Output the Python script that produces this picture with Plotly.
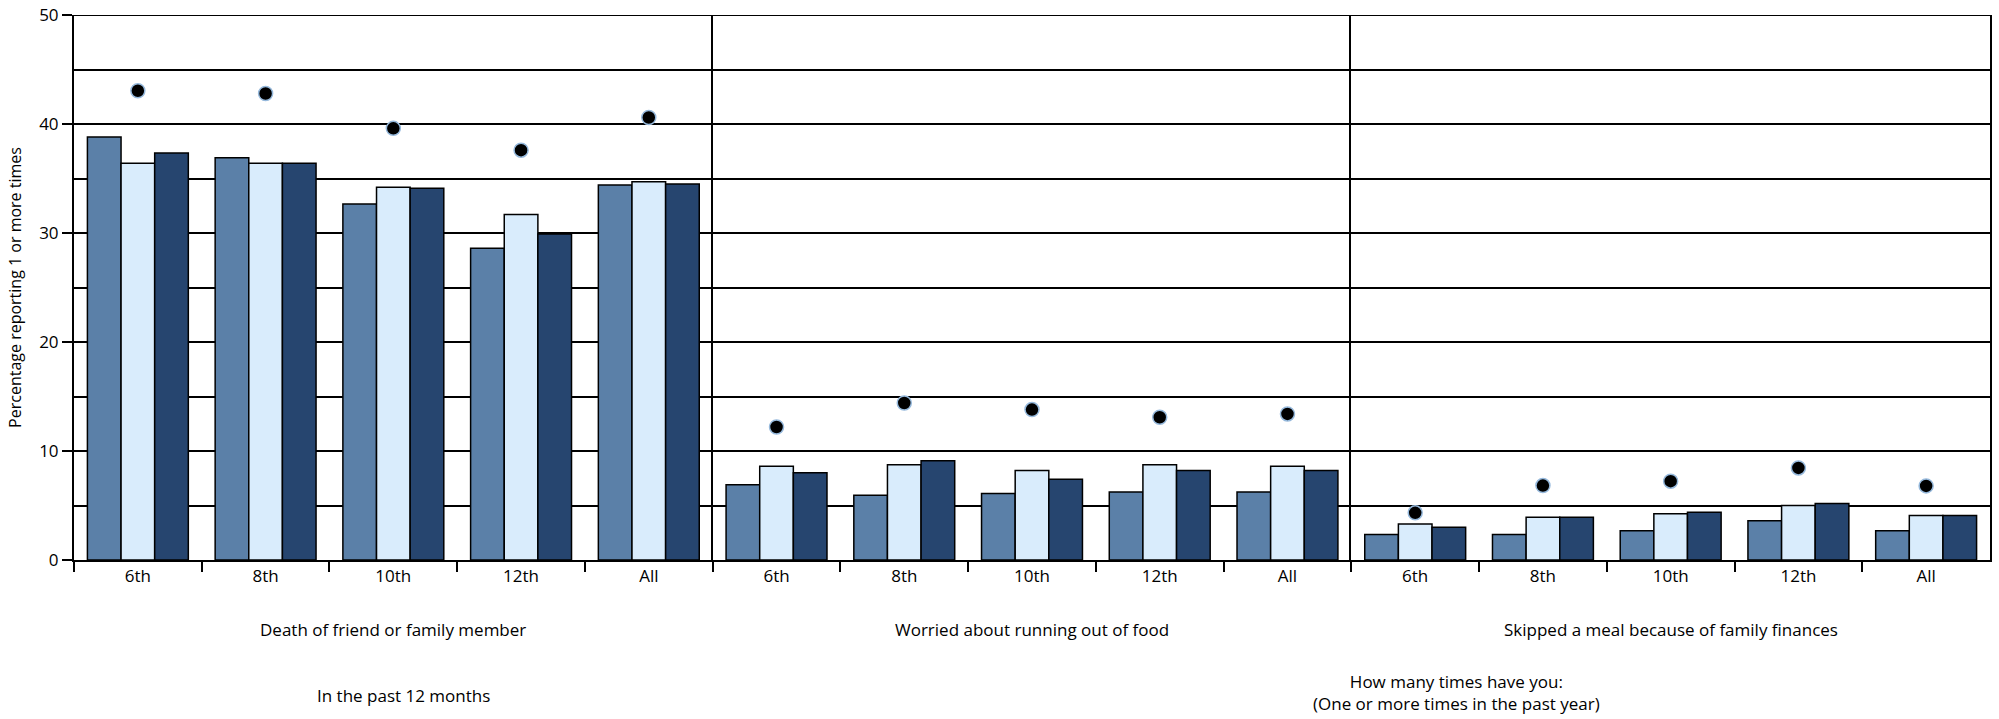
import plotly.graph_objects as go

categories = ["6th", "8th", "10th", "12th", "All"]
panels = ["Death of friend or family member",
          "Worried about running out of food",
          "Skipped a meal because of family finances"]

series1 = [[38.8, 36.9, 32.65, 28.6, 34.4],
           [6.9, 5.95, 6.1, 6.25, 6.25],
           [2.35, 2.35, 2.68, 3.6, 2.68]]
series2 = [[36.4, 36.4, 34.2, 31.7, 34.7],
           [8.6, 8.75, 8.2, 8.75, 8.6],
           [3.3, 3.93, 4.24, 5.0, 4.09]]
series3 = [[37.35, 36.4, 34.1, 29.9, 34.5],
           [8.0, 9.1, 7.4, 8.2, 8.2],
           [3.0, 3.93, 4.39, 5.18, 4.09]]
dots = [[43.05, 42.8, 39.6, 37.6, 40.6],
        [12.2, 14.4, 13.8, 13.1, 13.4],
        [4.33, 6.83, 7.23, 8.45, 6.8]]

colors = ["rgb(91,128,168)", "rgb(217,236,252)", "rgb(38,69,111)"]
FONT = "Liberation Sans Narrow, Open Sans, sans-serif"

W, Hfig = 1999, 719
PL, PR, PT, PB = 74, 1990, 15, 560  # plot area in screen coords

fig = go.Figure()
domains = [[0, 1/3], [1/3, 2/3], [2/3, 1]]
for i in range(3):
    xa = "x" if i == 0 else f"x{i+1}"
    ya = "y" if i == 0 else f"y{i+1}"
    for s, vals in enumerate([series1, series2, series3]):
        fig.add_trace(go.Bar(x=categories, y=vals[i], xaxis=xa, yaxis=ya,
                             marker=dict(color=colors[s], line=dict(color="black", width=1.5)),
                             showlegend=False, name=f"Series {s+1}"))
    fig.add_trace(go.Scatter(x=categories, y=dots[i], xaxis=xa, yaxis=ya, mode="markers",
                             marker=dict(color="black", size=14,
                                         line=dict(color="rgb(150,185,220)", width=1.5)),
                             showlegend=False, name="Point"))

layout = dict(
    width=W, height=Hfig, autosize=False,
    margin=dict(l=PL, r=W - PR, t=PT, b=Hfig - PB, pad=0),
    paper_bgcolor="white", plot_bgcolor="white",
    barmode="group", bargap=0.21, bargroupgap=0,
    font=dict(family=FONT, size=17, color="black"),
)
for i in range(3):
    xk = "xaxis" if i == 0 else f"xaxis{i+1}"
    yk = "yaxis" if i == 0 else f"yaxis{i+1}"
    ya = "y" if i == 0 else f"y{i+1}"
    xa = "x" if i == 0 else f"x{i+1}"
    layout[xk] = dict(domain=domains[i], anchor=ya, type="category", automargin=False,
                      tickson="boundaries", ticks="outside", ticklen=10, tickwidth=1.5,
                      tickcolor="black", showline=True, linecolor="black", linewidth=2,
                      showgrid=False, tickfont=dict(size=17), zeroline=False)
    layout[yk] = dict(anchor=xa, range=[0, 50], tickmode="array",
                      tickvals=[0, 10, 20, 30, 40, 50], showgrid=True, automargin=False,
                      gridcolor="black", gridwidth=1.5, zeroline=False,
                      showline=True, linecolor="black", linewidth=2,
                      minor=dict(tickvals=[5, 15, 25, 35, 45], showgrid=True,
                                 gridcolor="black", gridwidth=1.5),
                      mirror=(i == 2))
    if i == 0:
        layout[yk].update(ticks="outside", ticklen=10, tickwidth=1.5, tickcolor="black",
                          tickfont=dict(size=17),
                          title=dict(text="Percentage reporting 1 or more times",
                                     font=dict(size=16), standoff=14))
    else:
        layout[yk].update(showticklabels=False, ticks="", matches="y")
fig.update_layout(**layout)

# top border at 50 across all panels
fig.add_shape(type="line", xref="paper", yref="y", x0=0, x1=1, y0=50, y1=50,
              line=dict(color="black", width=2), layer="above")

Hp = float(PB - PT)
Wp = float(PR - PL)
def py(pix):
    return -(pix - PB) / Hp
def px(pix):
    return (pix - PL) / Wp

for i, t in enumerate(panels):
    fig.add_annotation(text=t, xref="paper", yref="paper",
                       x=(domains[i][0] + domains[i][1]) / 2, y=py(629),
                       showarrow=False, font=dict(size=17), xanchor="center", yanchor="middle")
fig.add_annotation(text="In the past 12 months", xref="paper", yref="paper",
                   x=px(403), y=py(695), showarrow=False, font=dict(size=17),
                   xanchor="center", yanchor="middle")
fig.add_annotation(text="How many times have you:<br>(One or more times in the past year)",
                   xref="paper", yref="paper", x=px(1456), y=py(692),
                   showarrow=False, font=dict(size=17), xanchor="center", yanchor="middle")

fig.write_html("out.html", config={"displayModeBar": False},
               post_script="document.body.style.margin='0';document.body.style.overflow='hidden';")
